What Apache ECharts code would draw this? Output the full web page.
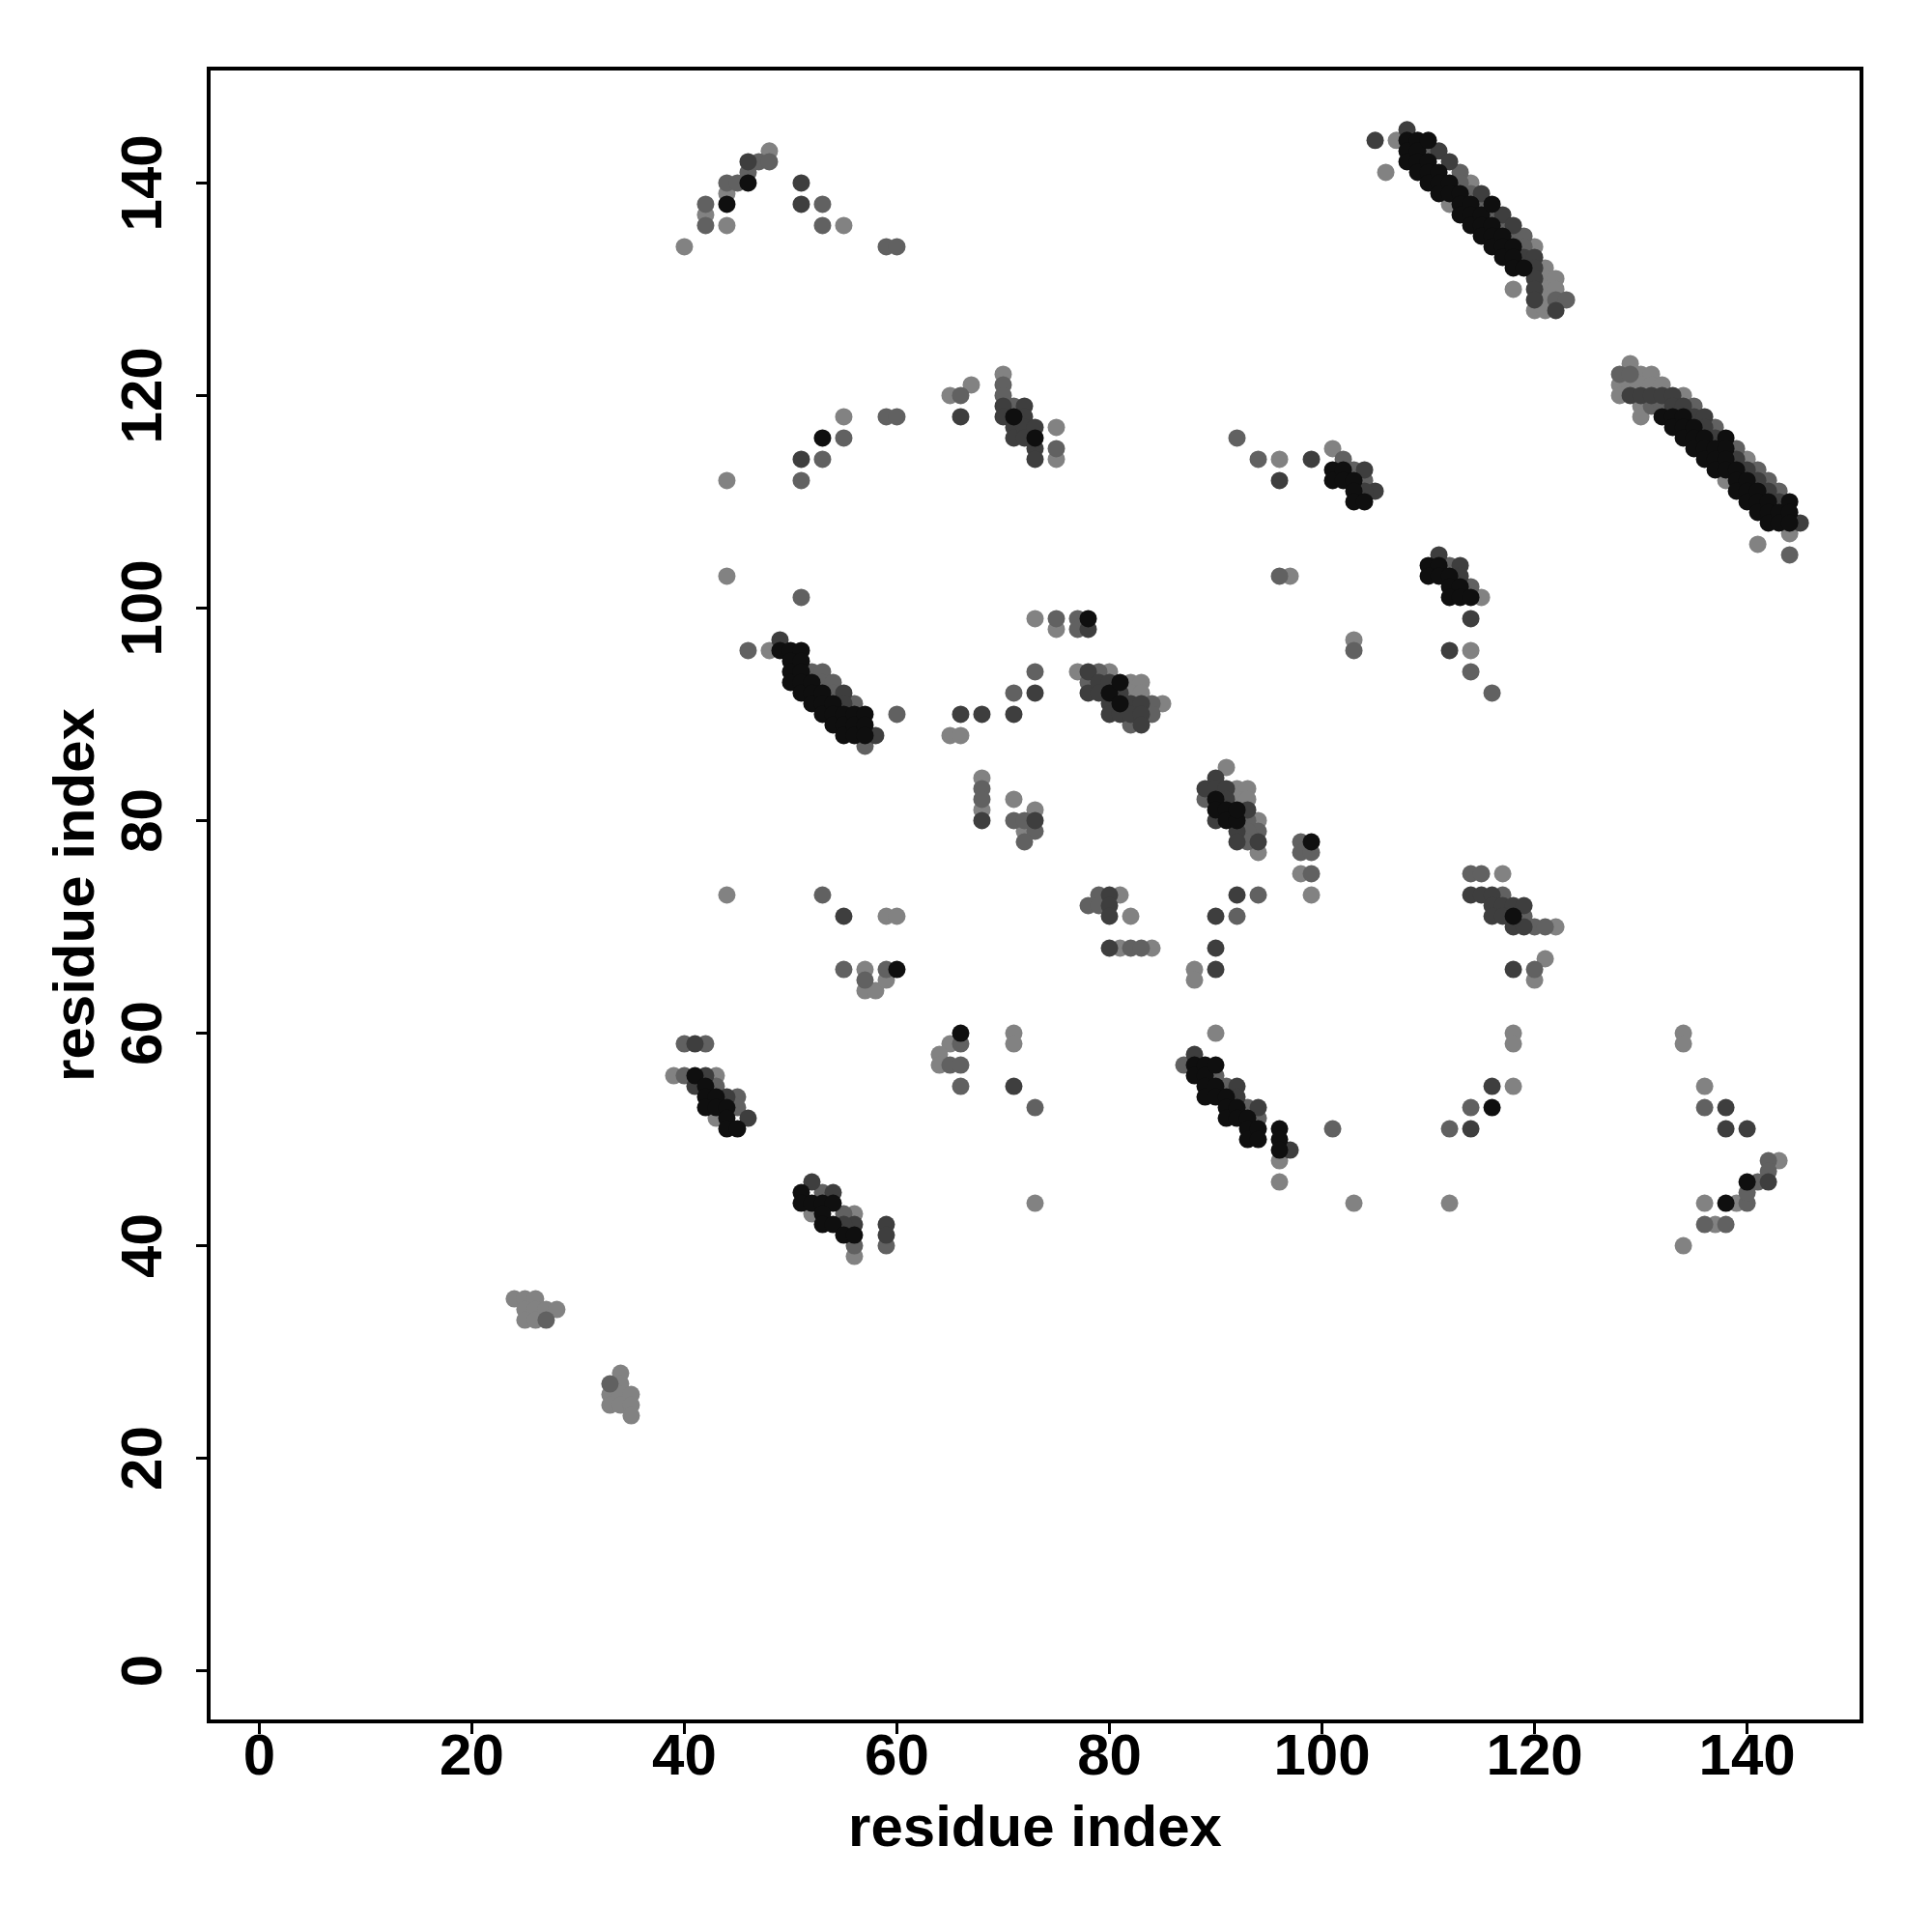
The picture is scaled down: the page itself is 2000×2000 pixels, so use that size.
<!DOCTYPE html>
<html><head><meta charset="utf-8">
<script src="https://cdn.jsdelivr.net/npm/echarts@6/dist/echarts.min.js"></script>
<style>html,body{margin:0;padding:0;background:#fff}#c{width:2000px;height:2000px}</style>
</head><body><div id="c"></div>
<script>
const xTicks = [0,20,40,60,80,100,120,140];
const yTicks = [0,20,40,60,80,100,120,140];
const axisTitle = 'residue index';

const blackPts = [
[44,138],[46,140],[53,116],[71,118],[73,116],[78,99],
[49,96],[50,96],[51,96],[50,95],[50,94],[50,93],[51,95],[51,94],[51,93],[51,92],[52,93],[52,92],[52,91],[53,92],[53,91],[53,90],[54,91],[54,90],[54,89],[55,90],[55,89],[55,88],[56,90],[56,89],[56,88],[57,90],[57,89],[57,88],
[80,92],[81,93],[81,91],
[90,82],[90,81],[91,81],[91,80],[92,80],[92,81],[99,78],
[101,113],[101,112],[102,113],[102,112],[103,112],[103,111],[103,110],[104,110],
[110,104],[111,104],[110,103],[111,103],[112,103],[112,102],[113,102],[112,101],[113,101],[114,101],
[108,144],[108,143],[108,142],[109,144],[109,143],[109,142],[109,141],[110,144],[110,142],[110,141],[110,140],
[111,141],[111,140],[111,139],[112,140],[112,139],[113,139],[113,138],[113,137],[114,138],[114,137],[114,136],
[115,137],[115,136],[115,135],[116,138],[116,136],[116,135],[116,134],[117,135],[117,134],[117,133],
[118,134],[118,133],[118,132],[119,132],
[132,118],[133,118],[133,117],[134,118],[134,117],[134,116],[135,117],[135,116],[135,115],[136,116],[136,115],[136,114],
[137,115],[137,114],[137,113],[138,116],[138,115],[138,114],[138,113],[139,113],[139,112],[139,111],
[140,112],[140,111],[140,110],[141,111],[141,110],[141,109],[142,110],[142,109],[142,108],[143,109],[143,108],
[144,110],[144,109],[144,108],
[41,56],[42,55],[42,54],[43,54],[42,53],[43,53],[44,53],[44,52],[44,51],[45,51],
[51,45],[51,44],[52,44],[53,44],[54,44],[53,43],[53,42],[54,42],[55,41],[56,41],
[60,66],[66,60],
[88,57],[88,56],[89,57],[89,56],[89,55],[89,54],[90,57],[90,55],[90,54],[91,54],[91,53],[91,52],[92,53],[92,52],
[93,52],[93,51],[93,50],[94,51],[94,50],[96,51],[96,50],[96,49],
[116,53],[118,71],[140,46],[138,44]
];

const darkPts = [
[46,142],[51,140],[51,138],
[51,114],[66,118],[70,119],[70,118],[71,117],[71,116],[72,119],[72,118],[72,117],[72,116],[73,117],[73,115],[73,114],
[96,112],[99,114],[104,113],[105,111],[104,111],[105,144],[108,145],
[49,97],[55,92],[55,91],[58,88],[66,90],[68,90],[71,90],[73,92],[78,98],
[78,94],[78,92],[79,93],[79,92],[80,93],[81,92],[80,91],[82,91],[83,91],[80,90],[81,90],[82,90],[83,90],[83,89],
[90,84],[89,83],[90,83],[91,83],[91,82],[90,80],[93,81],[92,79],[92,78],[94,78],
[113,104],[113,103],[111,105],[114,99],[112,96],
[68,80],[73,80],
[55,71],[41,59],[42,56],[41,55],[44,54],[46,52],
[52,46],[54,45],[56,42],[55,42],[59,42],[59,41],
[71,55],[80,73],[80,72],[80,71],[80,68],
[92,73],[90,71],[90,68],[90,66],[88,58],[92,55],[92,54],[94,53],[97,49],
[114,51],[116,55],[118,66],[114,73],[115,73],[116,73],[116,72],[117,72],[118,72],[119,72],[116,71],[117,71],[118,70],[119,70],
[138,53],[138,51],[140,51],[142,46],
[111,143],[112,142],[115,139],[117,137],[118,136],[119,133],[120,133],[120,132],[120,131],[120,130],[120,129],[122,128],
[129,120],[130,120],[131,120],[132,120],[133,120],[133,119],[134,119],[135,118],[136,118],[136,117],[137,116],
[139,114],[140,113],[141,112],[142,111],[143,110],[145,108]
];

const midPts = [
[42,138],[42,136],[44,140],[45,140],[46,141],[47,142],[48,142],[53,138],[53,136],[59,134],[60,134],
[51,112],[53,114],[55,116],[59,118],[60,118],[66,120],[70,121],[70,120],[71,119],[75,115],
[92,116],[94,114],[102,114],[103,113],[104,112],[112,104],
[51,101],[46,96],[60,90],[52,94],[53,94],[53,93],[54,93],[54,92],[56,91],[57,87],
[71,92],[73,94],[75,99],[77,99],[77,98],
[79,94],[78,93],[82,89],[84,91],[84,90],
[89,82],[93,80],[94,79],[93,79],[93,78],
[96,103],[103,96],[114,102],[114,94],[116,92],
[68,83],[68,82],[71,80],[72,80],[73,79],[72,78],
[98,78],[98,77],[99,77],[99,75],
[53,73],[55,66],[57,65],[59,66],
[40,59],[42,59],[40,56],[43,55],[45,54],[45,53],
[53,45],[55,43],[56,40],[59,40],
[66,59],[65,57],[66,57],[66,55],[73,53],
[78,72],[79,73],[79,72],[82,68],[83,68],
[94,73],[92,71],[87,57],[90,56],[91,55],[93,53],[94,52],
[101,51],[112,51],[114,53],
[114,75],[115,75],[117,73],[119,71],[120,70],[121,70],[120,66],
[136,53],[142,48],[142,47],[141,46],[140,44],[140,45],[136,42],[138,42],
[27,33],[33,27],
[110,143],[113,141],[113,140],[114,139],[115,138],[116,137],[117,136],[118,135],[119,135],[119,134],[122,129],[123,129],
[128,122],[129,122],[131,119],[132,119],[135,119],[137,117],[139,115],[141,113],[142,112],[143,111],[144,105]
];

const lightPts = [
[40,134],[42,137],[44,139],[44,136],[48,143],[55,136],
[44,112],[55,118],[65,120],[67,121],[70,122],[75,117],[75,114],
[96,114],[101,115],[107,144],[106,141],
[44,103],[48,96],[65,88],[66,88],[73,99],[75,98],
[77,94],[80,94],[82,93],[83,93],[82,92],[83,92],[85,91],
[91,85],[92,83],[93,83],[92,82],[93,82],[94,80],[94,77],
[97,103],[103,97],[115,101],[114,96],
[68,84],[68,81],[71,82],[73,81],[72,79],
[98,75],
[44,73],[59,71],[60,71],[57,66],[57,64],[58,64],[59,65],
[39,56],[43,56],[43,52],[52,43],[56,43],[56,39],
[65,59],[64,58],[64,57],[71,60],[71,59],[73,44],
[81,73],[82,71],[81,68],[84,68],
[99,73],[88,66],[88,65],[90,60],[96,48],[96,46],[103,44],[112,44],
[118,55],[118,60],[118,59],[117,75],[122,70],[120,65],[121,67],
[134,60],[134,59],[136,55],[143,48],[136,44],[139,44],[137,42],[134,40],
[24,35],[25,35],[26,35],[25,34],[26,34],[27,34],[28,34],[25,33],[26,33],
[34,28],[34,27],[33,26],[34,26],[35,26],[33,25],[34,25],[35,25],[35,24],
[112,138],[114,140],[120,134],[120,128],[121,132],[121,131],[121,130],[121,129],[121,128],[122,131],[122,130],[118,130],
[128,121],[128,120],[129,123],[129,121],[130,122],[130,121],[130,119],[130,118],[131,122],[131,121],[132,121],[134,120],
[138,112],[140,114],[144,107],[141,106]
];

const shades = [
  {data: lightPts, color: '#828282'},
  {data: midPts, color: '#616161'},
  {data: darkPts, color: '#3e3e3e'},
  {data: blackPts, color: '#0f0f0f'}
];

const FONT = '"Liberation Sans", Arial, Helvetica, sans-serif';
const chart = echarts.init(document.getElementById('c'), null, {renderer: 'canvas'});
const axisCommon = {
  type: 'value', min: -4.76, max: 150.76,
  name: axisTitle, nameLocation: 'middle',
  nameTextStyle: {fontFamily: FONT, fontWeight: 'bold', fontSize: 60, color: '#000'},
  axisLine: {show: false, onZero: false},
  splitLine: {show: false},
  axisTick: {show: true, inside: false, length: 13, lineStyle: {color: '#000', width: 3}},
  axisLabel: {fontFamily: FONT, fontWeight: 'bold', fontSize: 60, color: '#000'}
};
chart.setOption({
  animation: false,
  backgroundColor: '#fff',
  grid: {left: 216, top: 71, width: 1711, height: 1711, show: true, borderColor: '#000', borderWidth: 4, backgroundColor: 'transparent'},
  xAxis: Object.assign({}, axisCommon, {
    nameGap: 82,
    axisTick: Object.assign({}, axisCommon.axisTick, {customValues: xTicks}),
    axisLabel: Object.assign({}, axisCommon.axisLabel, {customValues: xTicks, margin: 8})
  }),
  yAxis: Object.assign({}, axisCommon, {
    nameGap: 106,
    axisTick: Object.assign({}, axisCommon.axisTick, {customValues: yTicks}),
    axisLabel: Object.assign({}, axisCommon.axisLabel, {customValues: yTicks, rotate: 90, margin: 36})
  }),
  series: shades.map((s, i) => ({
    type: 'scatter', data: s.data, symbol: 'circle', symbolSize: 18,
    itemStyle: {color: s.color, opacity: 1}, z: 2 + i, silent: true
  }))
});
</script></body></html>
